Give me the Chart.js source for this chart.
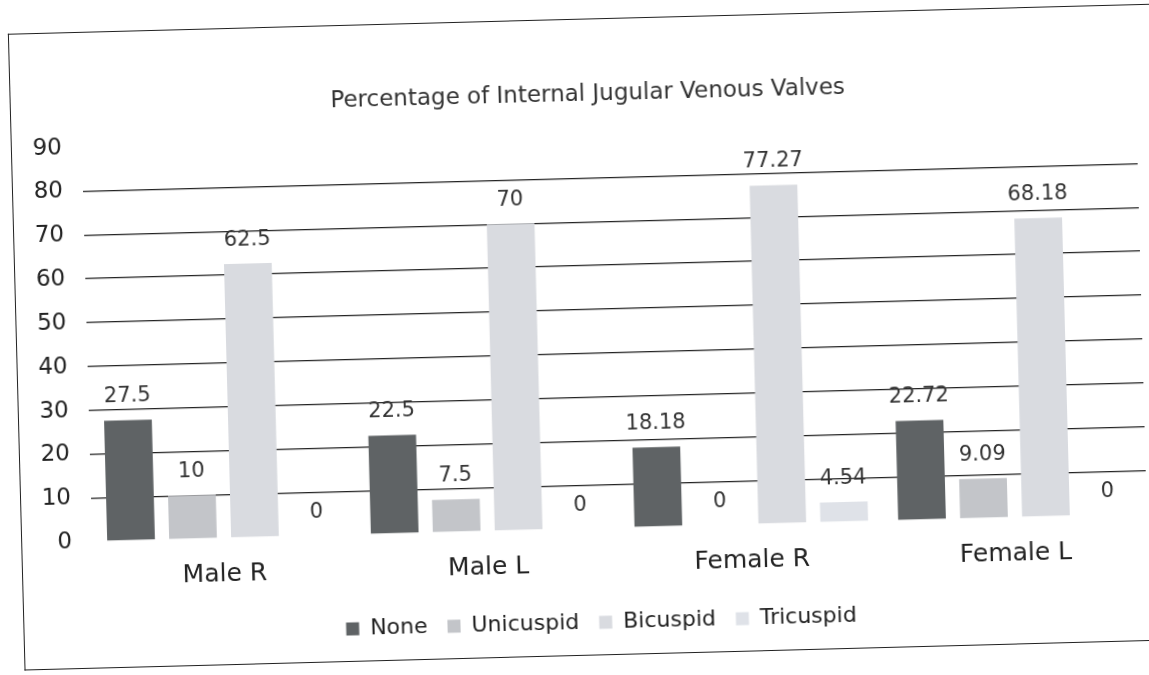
<!DOCTYPE html>
<html>
<head>
<meta charset="utf-8">
<script src="https://cdn.jsdelivr.net/npm/chart.js@4/dist/chart.umd.min.js"></script>
<style>
  html, body { margin: 0; padding: 0; width: 1149px; height: 675px; overflow: hidden; background: #fff; }
  #page { position: absolute; left: 0; top: 0; width: 1149px; height: 675px; transform: rotate(-1.5deg); transform-origin: 574px 337px; }
  #frame { position: absolute; left: 16px; top: 19px; width: 1220px; height: 637px; border-left: 1.5px solid #222; border-top: 1.5px solid #222; border-bottom: 1.5px solid #222; box-sizing: border-box; }
  #wrap { position: absolute; left: 16px; top: 19px; width: 1156px; height: 637px; }
</style>
</head>
<body>
<div id="page">
  <div id="frame"></div>
  <div id="wrap"><canvas id="c"></canvas></div>
</div>
<script>
const categories = ["Male R", "Male L", "Female R", "Female L"];
const seriesNames = ["None", "Unicuspid", "Bicuspid", "Tricuspid"];
const noneValues = [27.5, 22.5, 18.18, 22.72];
const unicuspidValues = [10, 7.5, 0, 9.09];
const bicuspidValues = [62.5, 70, 77.27, 68.18];
const tricuspidValues = [0, 0, 4.54, 0];
const yTicks = [0, 10, 20, 30, 40, 50, 60, 70, 80, 90];
const titleText = "Percentage of Internal Jugular Venous Valves";

const colors = ["#5f6365", "#c3c5c9", "#d9dbe0", "#dfe2e8"];
const FONT = "'DejaVu Sans', sans-serif";

const valueLabels = {
  id: 'valueLabels',
  afterDatasetsDraw(chart) {
    const ctx = chart.ctx;
    ctx.save();
    ctx.font = "21px " + FONT;
    ctx.fillStyle = "#333";
    ctx.textAlign = "center";
    ctx.textBaseline = "alphabetic";
    chart.data.datasets.forEach((ds, i) => {
      const meta = chart.getDatasetMeta(i);
      meta.data.forEach((bar, j) => {
        ctx.fillText(String(ds.data[j]), bar.x, bar.y - 18);
      });
    });
    ctx.restore();
  }
};

// let the y tick labels extend into the left padding without being clipped
const widenYLabelArea = {
  id: 'widenYLabelArea',
  afterLayout(chart) { chart.scales.y.left = 0; }
};

const datasets = [noneValues, unicuspidValues, bicuspidValues, tricuspidValues].map((vals, i) => ({
  label: seriesNames[i],
  data: vals,
  backgroundColor: colors[i],
  borderWidth: 0,
  categoryPercentage: 0.94,
  barPercentage: 0.77
}));

new Chart(document.getElementById('c'), {
  type: 'bar',
  data: { labels: categories, datasets },
  options: {
    responsive: true,
    maintainAspectRatio: false,
    animation: false,
    layout: { padding: { left: 30, right: 30, top: 0, bottom: 12 } },
    plugins: {
      title: {
        display: true,
        text: titleText,
        color: "#333",
        font: { family: FONT, size: 23, weight: 'normal' },
        padding: { top: 62, bottom: 26 }
      },
      legend: {
        position: 'bottom',
        labels: {
          color: "#222",
          font: { family: FONT, size: 22 },
          boxWidth: 13,
          boxHeight: 13,
          padding: 20
        }
      },
      tooltip: { enabled: false }
    },
    scales: {
      x: {
        grid: { display: false },
        border: { display: false },
        afterFit(scale) { scale.height = 63; },
        ticks: { color: "#222", font: { family: FONT, size: 25 }, padding: 13 }
      },
      y: {
        min: 0, max: 90,
        afterBuildTicks(scale) { scale.ticks = yTicks.map(v => ({ value: v })); },
        afterFit(scale) { scale.width = 41; },
        border: { display: false },
        grid: {
          drawTicks: false,
          lineWidth: 1.3,
          color: c => (c.tick && (c.tick.value === 0 || c.tick.value === 90)) ? 'rgba(0,0,0,0)' : '#222'
        },
        ticks: { color: "#222", font: { family: FONT, size: 23 }, padding: 20 }
      }
    }
  },
  plugins: [valueLabels, widenYLabelArea]
});
</script>
</body>
</html>
